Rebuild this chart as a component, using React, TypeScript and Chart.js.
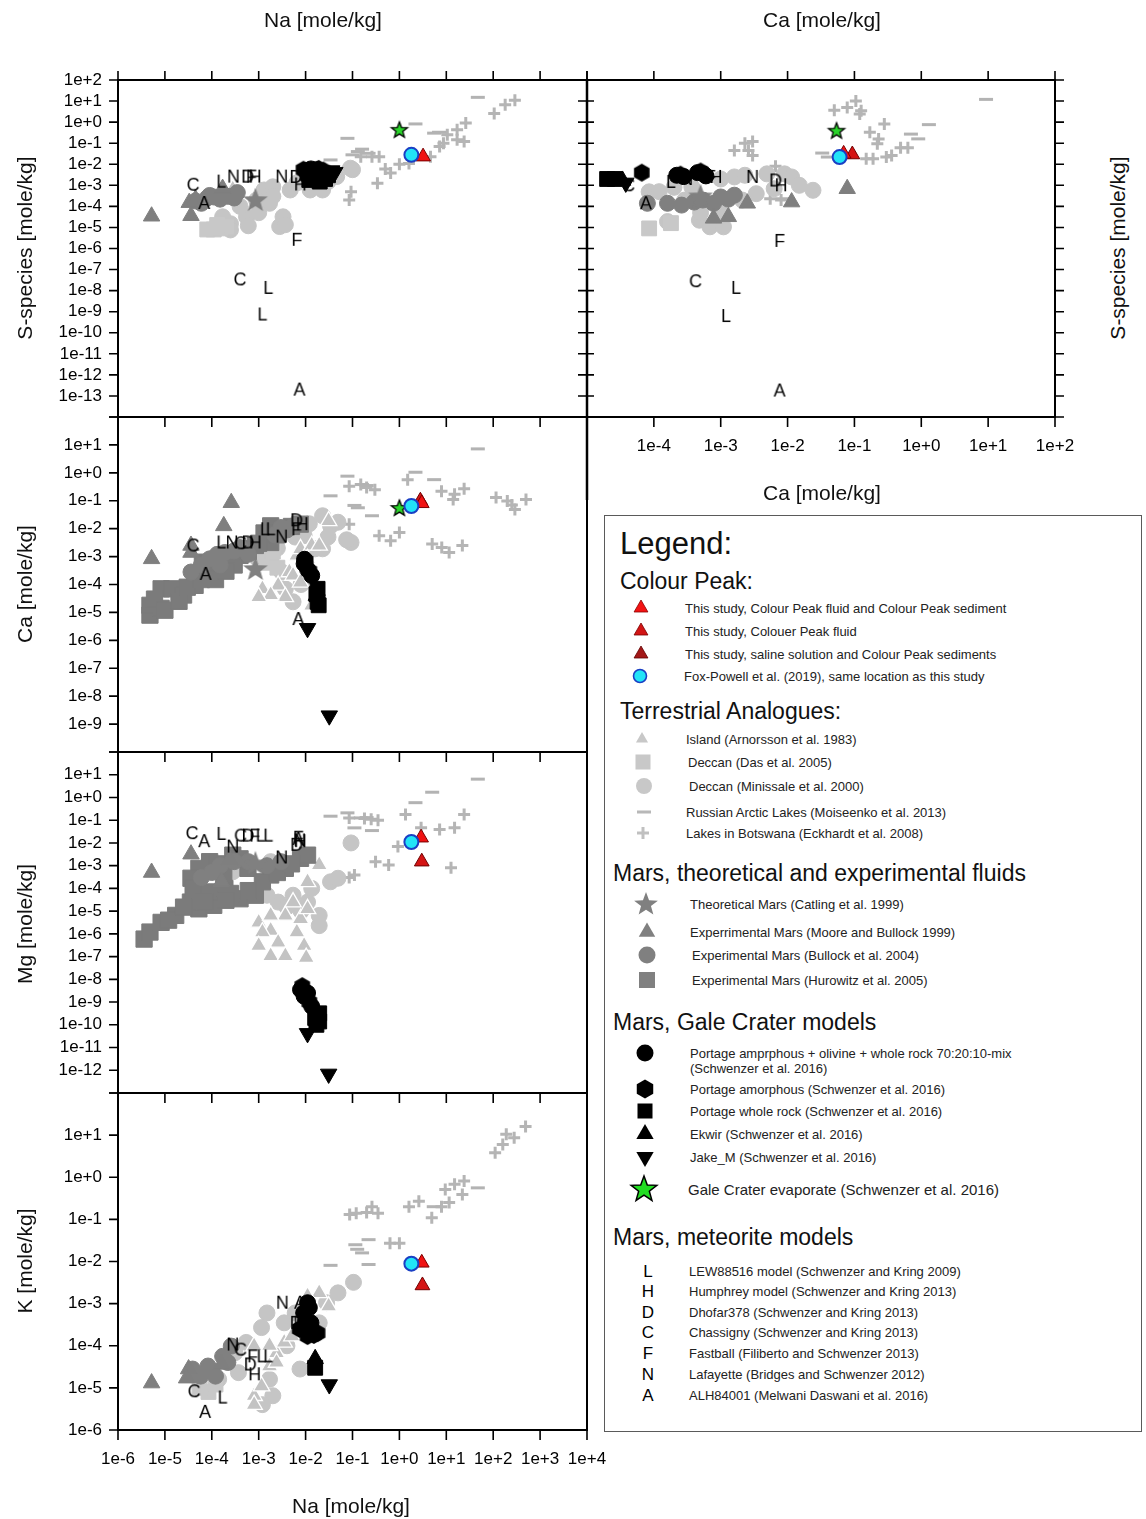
import React, { useEffect, useRef } from "react";
import { Chart, registerables } from "chart.js";

Chart.register(...registerables);

const FONT = "'Liberation Sans', Arial, Helvetica, sans-serif";

type P = [number, number];
type LP = [string, number, number];

// ---------------- axis ranges & tick labels ----------------
const NA_RANGE: P = [1e-6, 1e4];
const S_RANGE: P = [1e-14, 1e2];
const CA_S_RANGE: P = [1e-5, 1e2];
const CA_RANGE: P = [1e-10, 1e2];
const MG_RANGE: P = [1e-13, 1e2];
const K_RANGE: P = [1e-6, 1e2];

const NA_TICK_LABELS = ["1e-6", "1e-5", "1e-4", "1e-3", "1e-2", "1e-1", "1e+0", "1e+1", "1e+2", "1e+3", "1e+4"];
const CA_S_TICK_LABELS = ["1e-4", "1e-3", "1e-2", "1e-1", "1e+0", "1e+1", "1e+2"];
const S_TICK_LABELS = ["1e+2", "1e+1", "1e+0", "1e-1", "1e-2", "1e-3", "1e-4", "1e-5", "1e-6", "1e-7", "1e-8", "1e-9", "1e-10", "1e-11", "1e-12", "1e-13"];
const CA_TICK_LABELS = ["1e+1", "1e+0", "1e-1", "1e-2", "1e-3", "1e-4", "1e-5", "1e-6", "1e-7", "1e-8", "1e-9"];
const MG_TICK_LABELS = ["1e+1", "1e+0", "1e-1", "1e-2", "1e-3", "1e-4", "1e-5", "1e-6", "1e-7", "1e-8", "1e-9", "1e-10", "1e-11", "1e-12"];
const K_TICK_LABELS = ["1e+1", "1e+0", "1e-1", "1e-2", "1e-3", "1e-4", "1e-5", "1e-6"];

// ---------------- Panel: S-species vs Na ----------------
const letters_NaS: LP[] = [
  ["C", 4e-5, 1.07e-3], ["L", 1.6e-4, 1.5e-3], ["N", 2.9e-4, 2.6e-3], ["D", 5.8e-4, 2.6e-3], ["F", 7e-4, 2.6e-3], ["H", 8.4e-4, 2.6e-3],
  ["N", 3.1e-3, 2.6e-3], ["D", 6.2e-3, 2.5e-3], ["H", 7.7e-3, 1.1e-3], ["A", 6.9e-5, 1.45e-4], ["F", 6.5e-3, 2.6e-6],
  ["C", 4e-4, 3.4e-8], ["L", 1.6e-3, 1.35e-8], ["L", 1.2e-3, 7.4e-10], ["A", 7.4e-3, 2e-13],
];
const fox_NaS: P[] = [[1.8, 0.028]];
const cpBoth_NaS: P[] = [[3.2, 0.023]];
const galeEvap_NaS: P[] = [[1.0, 0.43]];
const portMix_NaS: P[] = [[0.01, 0.005], [0.012, 0.004], [0.015, 0.003], [0.02, 0.0045], [0.013, 0.006], [0.017, 0.0055]];
const portAmo_NaS: P[] = [[0.009, 0.0055], [0.011, 0.0028], [0.019, 0.006], [0.024, 0.005]];
const portWR_NaS: P[] = [[0.012, 0.0018], [0.02, 0.0015], [0.026, 0.002], [0.016, 0.0024], [0.03, 0.003]];
const ekwir_NaS: P[] = [[0.022, 0.0032]];
const jake_NaS: P[] = [[0.036, 0.005], [0.042, 0.0042]];
const catling_NaS: P[] = [[8.5e-4, 2e-4]];
const moore_NaS: P[] = [[5.2e-6, 3.4e-5], [3.6e-5, 3.6e-5], [3.3e-5, 1.5e-4], [1.7e-4, 7e-4], [4.5e-5, 2.2e-4]];
const bullock_NaS: P[] = [[4.5e-5, 1.8e-4], [6e-5, 1.4e-4], [8e-5, 2.5e-4], [1.1e-4, 2.8e-4], [1.5e-4, 2.2e-4], [2.2e-4, 3e-4], [3e-4, 2.5e-4], [9e-5, 3.3e-4], [3.5e-4, 4.5e-4]];
const island_NaS: P[] = [[1.9e-4, 2e-4], [2.4e-4, 3.2e-4], [2.8e-4, 6.5e-4]];
const das_NaS: P[] = [[8e-5, 8e-6], [1.1e-4, 8e-6], [1.5e-4, 9e-6], [2e-4, 1.1e-5], [1.3e-4, 1.3e-5]];
const minissale_NaS: P[] = [
  [2.5e-4, 1.5e-5], [5.5e-4, 3.2e-5], [1.3e-3, 6e-4], [1.7e-3, 1.4e-4], [2.8e-3, 1.1e-5], [3.3e-3, 3.2e-5], [4.7e-3, 6e-4],
  [0.0125, 6e-4], [0.023, 6e-4], [0.046, 2.6e-3], [0.09, 6.5e-3], [9e-4, 2e-4], [4e-4, 1e-4], [1.7e-4, 3.2e-5], [2.5e-4, 7.6e-6],
  [2e-3, 8.5e-4], [6.5e-3, 1.3e-3], [0.1, 5.5e-3], [3.7e-3, 1.35e-5], [6e-4, 1.2e-5], [1e-3, 5e-5], [2e-3, 3e-4], [0.03, 1.5e-3],
];
const russian_NaS: P[] = [[47, 15], [2.2, 0.82], [0.078, 0.17], [0.16, 0.052], [0.034, 0.016], [5.5, 0.3], [0.1, 0.028], [0.22, 0.033], [0.13, 0.04], [7, 0.33]];
const botswana_NaS: P[] = [
  [105, 2.6], [180, 6.6], [290, 11], [26, 0.9], [17, 0.43], [10.5, 0.25], [8.7, 0.1], [17, 0.145], [24, 0.12], [4.6, 0.023],
  [7.2, 0.07], [1.6, 0.011], [1.0, 0.01], [0.65, 0.0038], [0.34, 0.00126], [0.093, 5e-4], [0.085, 2e-4], [0.26, 0.023],
  [0.37, 0.023], [0.15, 0.023], [0.5, 0.006],
];

// ---------------- Panel: S-species vs Ca ----------------
const letters_CaS: LP[] = [
  ["C", 4.2e-5, 1e-3], ["L", 1.8e-4, 1.45e-3], ["N", 3.1e-4, 2e-3], ["D", 6.3e-4, 2.5e-3], ["F", 7e-4, 2.5e-3], ["H", 8.5e-4, 2.5e-3],
  ["N", 3e-3, 2.5e-3], ["D", 6.6e-3, 1.7e-3], ["H", 8e-3, 1e-3], ["A", 7.6e-5, 1.4e-4], ["F", 7.6e-3, 2.3e-6],
  ["C", 4.2e-4, 2.8e-8], ["L", 1.7e-3, 1.35e-8], ["L", 1.2e-3, 6.2e-10], ["A", 7.6e-3, 1.8e-13],
];
const fox_CaS: P[] = [[0.06, 0.022]];
const cpBoth_CaS: P[] = [[0.069, 0.031]];
const cpFluid_CaS: P[] = [[0.093, 0.029]];
const galeEvap_CaS: P[] = [[0.054, 0.39]];
const portMix_CaS: P[] = [[2.2e-4, 3e-3], [4.5e-4, 4e-3], [5.5e-4, 3.5e-3], [6e-4, 2.8e-3], [2.8e-4, 2.6e-3]];
const portAmo_CaS: P[] = [[6.6e-5, 4e-3], [2.5e-4, 3.2e-3], [5e-4, 4.5e-3]];
const portWR_CaS: P[] = [[2e-5, 2e-3], [2.6e-5, 2e-3]];
const ekwir_CaS: P[] = [[3.4e-5, 1.7e-3]];
const jake_CaS: P[] = [[3.8e-5, 1.3e-3]];
const catling_CaS: P[] = [[5e-4, 3e-4]];
const moore_CaS: P[] = [[7.8e-4, 2.7e-5], [1.3e-3, 3.2e-5], [2.5e-3, 1.4e-4], [0.0115, 1.6e-4], [0.078, 6.9e-4]];
const bullock_CaS: P[] = [[8e-5, 1.4e-4], [1.6e-4, 1.4e-4], [2.6e-4, 1.15e-4], [5.4e-4, 2e-4], [1e-3, 2.8e-4], [1.6e-3, 3.4e-4], [7.8e-4, 1.4e-4], [4e-4, 1.6e-4], [1.3e-3, 2.2e-4]];
const das_CaS: P[] = [[8.5e-5, 9e-6], [1.8e-4, 1.6e-5]];
const minissale_CaS: P[] = [
  [8.5e-5, 4.9e-4], [1.6e-4, 1.9e-5], [4.8e-4, 2.2e-5], [6.9e-4, 1.07e-5], [1.1e-3, 1.07e-5], [1.6e-3, 2.5e-3], [2.1e-3, 2e-4],
  [4.9e-3, 3.5e-3], [9e-3, 3.5e-3], [0.0115, 2.5e-3], [0.024, 5.8e-4], [3.7e-4, 8.3e-4], [2.9e-4, 2e-4], [3.4e-3, 4e-4],
  [6.3e-3, 6.9e-4], [2.3e-3, 3e-3], [1.2e-4, 5e-4], [1e-3, 2e-3], [5e-4, 5e-5], [1e-3, 5e-5], [0.015, 1e-3], [2e-4, 8e-4],
];
const russian_CaS: P[] = [[9.3, 12], [1.3, 0.76], [0.7, 0.27], [0.9, 0.16], [0.033, 0.034], [0.04, 0.022], [8.5e-3, 2.3e-4]];
const botswana_CaS: P[] = [
  [0.05, 3.7], [0.078, 4.9], [0.105, 10], [0.126, 3.5], [0.12, 2.4], [2.3e-3, 0.1], [3e-3, 0.12], [1.6e-3, 0.045], [2.6e-3, 0.045],
  [3e-3, 0.026], [0.17, 0.33], [0.28, 0.81], [0.23, 0.16], [0.22, 0.093], [0.36, 0.026], [0.49, 0.06], [0.63, 0.06], [0.15, 0.018],
  [0.19, 0.018], [6.6e-3, 8e-3], [5.5e-3, 2.3e-4], [8e-3, 2e-4], [0.3, 0.022],
];

// ---------------- Panel: Ca vs Na ----------------
const letters_NaCa: LP[] = [
  ["C", 4e-5, 2.5e-3], ["A", 7.4e-5, 2.4e-4], ["L", 1.6e-4, 3.2e-3], ["N", 2.7e-4, 3.2e-3], ["C", 4.1e-4, 3e-3], ["D", 5.9e-4, 3.2e-3],
  ["H", 8.5e-4, 3.2e-3], ["L", 1.35e-3, 9.5e-3], ["L", 1.8e-3, 9.5e-3], ["N", 3.1e-3, 5.2e-3], ["F", 6.4e-3, 9.5e-3],
  ["D", 6.4e-3, 0.02], ["H", 8.5e-3, 0.0145], ["A", 7e-3, 5.8e-6],
];
const fox_NaCa: P[] = [[1.8, 0.065]];
const cpBoth_NaCa: P[] = [[3.0, 0.081]];
const cpFluid_NaCa: P[] = [[2.8, 0.1]];
const galeEvap_NaCa: P[] = [[1.0, 0.055]];
const portMix_NaCa: P[] = [[9.3e-3, 5.5e-4], [0.0135, 2.1e-4], [0.011, 3.5e-4], [9.5e-3, 8e-4]];
const portAmo_NaCa: P[] = [[0.01, 7e-4], [0.012, 3e-4]];
const portWR_NaCa: P[] = [[0.018, 7e-5], [0.018, 2.4e-5], [0.017, 4.5e-5], [0.019, 1.8e-5]];
const ekwir_NaCa: P[] = [[0.017, 4e-5]];
const jake_NaCa: P[] = [[0.011, 2.7e-6], [0.032, 2e-9]];
const catling_NaCa: P[] = [[8.5e-4, 3.6e-4]];
const moore_NaCa: P[] = [[5.2e-6, 8.3e-4], [2.6e-4, 0.085], [1.8e-4, 0.0126], [3.6e-5, 2.5e-3], [3.6e-5, 1.4e-3]];
const bullock_NaCa: P[] = [
  [3.6e-5, 2.8e-4], [9e-5, 8.3e-4], [1.9e-4, 1.4e-3], [4e-4, 2.1e-3], [5.4e-3, 0.0126], [6e-5, 5e-4], [1.3e-4, 1.2e-3],
  [3e-4, 1.6e-3], [3e-3, 0.011], [1.5e-4, 5e-4], [6e-4, 1.2e-3], [2.2e-3, 6e-3], [4e-3, 9e-3],
];
const hurowitz_NaCa: P[] = [
  [4.8e-6, 8e-6], [4.8e-6, 1.8e-5], [8.3e-6, 7e-5], [1.4e-5, 7e-5], [2.5e-5, 4.2e-5], [4.4e-5, 9.3e-5], [9e-5, 2.8e-4], [1.9e-4, 1.1e-3],
  [4e-4, 1.1e-3], [8.5e-4, 2.5e-3], [1.8e-3, 3.2e-3], [1.8e-3, 0.0126], [7.7e-3, 0.0145], [8.3e-6, 1.4e-5], [6.3e-5, 6.3e-4],
  [4.9e-4, 1.9e-3], [1.2e-4, 3e-4], [2.5e-4, 8e-4], [6e-6, 3e-5], [1.3e-3, 7e-3], [1e-5, 1.2e-5], [2e-5, 2.5e-5], [3e-5, 8e-5],
  [6e-5, 1.5e-4], [1.5e-4, 6e-4], [3e-4, 5e-4], [6e-4, 1.5e-3], [1e-3, 3e-3], [2.5e-3, 6e-3], [5e-3, 0.012], [1.2e-4, 1.5e-4],
  [2e-4, 3e-4],
];
const island_NaCa: P[] = [
  [1.2e-3, 7e-5], [2.6e-3, 9.3e-5], [4.5e-3, 2.8e-4], [6.5e-3, 1.1e-3], [7.8e-3, 1.9e-3], [0.0135, 2.5e-3], [0.0195, 2.5e-3],
  [0.031, 0.019], [3.7e-3, 3.6e-5], [1.8e-3, 4.2e-5], [1e-3, 3.6e-5], [0.011, 8.3e-4], [5.4e-3, 2.1e-4], [7.8e-3, 1.2e-4], [0.0135, 1.8e-5],
];
const das_NaCa: P[] = [[1.5e-3, 6e-4], [2.5e-3, 4e-4], [1e-3, 1e-3], [2e-3, 1.5e-3]];
const minissale_NaCa: P[] = [
  [0.023, 0.029], [0.034, 0.0126], [0.049, 0.017], [0.093, 3.2e-3], [1.8e-3, 8.3e-4], [3.1e-3, 2.8e-4], [3.7e-3, 7e-5], [5.4e-3, 2.4e-5],
  [0.016, 1.9e-3], [9.3e-3, 5.6e-3], [0.023, 1.9e-3], [0.012, 0.015], [6e-3, 0.005], [0.03, 0.005], [0.075, 4e-3], [2.5e-3, 2e-3], [0.008, 1e-4],
];
const russian_NaCa: P[] = [[47, 7.2], [2.2, 1.05], [5.5, 0.57], [0.078, 0.76], [0.034, 0.15], [0.11, 0.068], [0.13, 0.056], [0.26, 0.029], [0.16, 0.38], [0.2, 0.35]];
const botswana_NaCa: P[] = [
  [0.085, 0.33], [0.15, 0.38], [0.2, 0.3], [0.3, 0.25], [1.5, 0.57], [7.9, 0.22], [15, 0.17], [24, 0.27], [14, 0.11], [115, 0.13],
  [200, 0.098], [290, 0.049], [500, 0.11], [0.37, 5.6e-3], [0.65, 3.7e-3], [1.0, 7.3e-3], [5, 2.8e-3], [8, 2.1e-3], [11.5, 1.4e-3],
  [22, 2.5e-3], [0.085, 0.0145], [250, 0.07],
];

// ---------------- Panel: Mg vs Na ----------------
const letters_NaMg: LP[] = [
  ["C", 3.8e-5, 0.027], ["A", 6.9e-5, 0.012], ["L", 1.6e-4, 0.025], ["N", 2.8e-4, 6.9e-3], ["C", 4.1e-4, 0.021], ["D", 5.9e-4, 0.021],
  ["F", 8.2e-4, 0.021], ["L", 1.1e-3, 0.021], ["L", 1.6e-3, 0.021], ["N", 3.1e-3, 2.3e-3], ["D", 6.4e-3, 8.3e-3], ["F", 7e-3, 0.017],
  ["H", 7.7e-3, 0.012], ["N", 7.5e-3, 0.013], ["A", 7e-3, 0.015],
];
const fox_NaMg: P[] = [[1.8, 0.011]];
const cpBoth_NaMg: P[] = [[2.9, 0.017]];
const cpFluid_NaMg: P[] = [[3.0, 1.5e-3]];
const portMix_NaMg: P[] = [[7.8e-3, 3.5e-9], [9.3e-3, 1.8e-9], [0.0135, 6.5e-10], [0.011, 2.5e-9]];
const portAmo_NaMg: P[] = [[8.5e-3, 5e-9], [0.012, 1e-9]];
const portWR_NaMg: P[] = [[0.0195, 3.2e-10], [0.0195, 1.4e-10], [0.017, 1e-10], [0.016, 2e-10]];
const jake_NaMg: P[] = [[0.011, 4.2e-11], [0.031, 6.9e-13]];
const catling_NaMg: P[] = [[8.5e-4, 1.26e-3]];
const moore_NaMg: P[] = [[5.2e-6, 5e-4], [3.6e-5, 3.2e-3], [1.6e-4, 2e-4], [2.4e-4, 1.8e-3]];
const bullock_NaMg: P[] = [[6e-5, 3e-4], [1.5e-4, 1e-3], [3e-4, 1.5e-3], [6e-4, 1.5e-3], [1.5e-3, 1e-3], [3e-3, 1.5e-3], [1e-4, 5e-4]];
const hurowitz_NaMg: P[] = [
  [3.6e-6, 5.9e-7], [4.8e-6, 1.2e-6], [8.3e-6, 3.2e-6], [1.7e-5, 6.5e-6], [5.3e-5, 1.26e-5], [1.1e-4, 1.8e-5], [4e-4, 3.5e-5],
  [8.5e-4, 5e-5], [4.4e-5, 5e-5], [9e-5, 7e-5], [1.9e-4, 1e-4], [5.3e-5, 7.6e-4], [9e-5, 1.5e-3], [2.8e-4, 2.9e-3], [5.9e-4, 7.6e-4],
  [1.8e-3, 3.9e-4], [3.7e-3, 7.6e-4], [7.8e-3, 2.1e-3], [0.011, 2.9e-3], [3.6e-5, 2.8e-4], [1.2e-3, 1.95e-4], [3.5e-5, 2.5e-5],
  [2.5e-4, 6e-5], [1.8e-4, 4e-4], [4e-5, 1e-4], [1.2e-5, 4e-6], [2.5e-5, 1.5e-5], [7e-5, 2.5e-5], [2e-4, 3e-5], [6e-4, 8e-5],
  [1.3e-4, 1.2e-3], [4e-4, 2e-3], [2.5e-3, 5e-4], [5e-3, 1.2e-3],
];
const island_NaMg: P[] = [
  [1e-3, 3.2e-6], [1.8e-3, 1.4e-6], [2.6e-3, 4.2e-7], [1.2e-3, 1.2e-6], [1e-3, 3e-7], [1.8e-3, 1.07e-7], [3.7e-3, 1.07e-7],
  [9.3e-3, 3e-7], [0.0103, 9e-8], [6.5e-3, 1.2e-6], [3.7e-3, 6.5e-6], [7.8e-3, 4.6e-6], [0.011, 1.26e-5], [0.0195, 1.07e-3],
  [0.011, 1.95e-4], [1.8e-3, 6.5e-6], [5.4e-3, 2.5e-5], [2.5e-4, 1.5e-3],
];
const minissale_NaMg: P[] = [
  [1.8e-3, 1.5e-3], [2.6e-3, 2.5e-5], [5.4e-3, 5e-5], [0.011, 2.5e-5], [0.0195, 6.5e-6], [0.0195, 2.3e-6], [0.0135, 1e-4],
  [0.034, 1.95e-4], [0.049, 2.8e-4], [0.093, 0.01], [2.8e-4, 5.4e-4], [4e-4, 1.07e-3], [1.5e-3, 5e-5], [8e-3, 1e-5], [4e-3, 1.5e-5],
];
const russian_NaMg: P[] = [[47, 6.4], [5, 1.7], [2.2, 0.59], [0.034, 0.15], [0.078, 0.21], [0.11, 0.046], [0.26, 0.035], [0.15, 0.126], [0.2, 0.13]];
const botswana_NaMg: P[] = [
  [0.085, 0.126], [0.18, 0.12], [0.25, 0.11], [0.35, 0.1], [1.35, 0.18], [2.9, 0.046], [7.2, 0.039], [15, 0.046], [24, 0.18],
  [0.93, 6.9e-3], [0.31, 1.5e-3], [0.59, 1.07e-3], [0.11, 3.9e-4], [0.085, 3e-4], [12.6, 8.1e-4],
];

// ---------------- Panel: K vs Na ----------------
const letters_NaK: LP[] = [
  ["N", 3.2e-3, 1.05e-3], ["A", 7.6e-3, 1.05e-3], ["D", 6.3e-3, 3.5e-4], ["L", 7e-3, 3.5e-4], ["N", 2.8e-4, 1.07e-4], ["C", 4.1e-4, 8.1e-5],
  ["F", 7.4e-4, 5.6e-5], ["L", 1.15e-3, 5.6e-5], ["L", 1.6e-3, 5.6e-5], ["D", 6.6e-4, 3.6e-5], ["H", 8.2e-4, 2.1e-5],
  ["C", 4.2e-5, 8.3e-6], ["L", 1.7e-4, 5.9e-6], ["A", 7.2e-5, 2.7e-6],
];
const fox_NaK: P[] = [[1.8, 8.9e-3]];
const cpBoth_NaK: P[] = [[3.0, 9.3e-3]];
const cpFluid_NaK: P[] = [[3.1, 2.7e-3]];
const portMix_NaK: P[] = [[0.011, 1.05e-3], [9.1e-3, 6e-4], [0.013, 3.5e-4], [0.012, 8e-4], [0.01, 4e-4]];
const portAmo_NaK: P[] = [[0.011, 1.7e-4], [0.015, 1.8e-4], [0.0075, 2.5e-4], [0.018, 2e-4]];
const portWR_NaK: P[] = [[0.016, 3e-5], [0.013, 2.2e-4]];
const ekwir_NaK: P[] = [[0.016, 4.9e-5]];
const jake_NaK: P[] = [[0.032, 1.2e-5]];
const moore_NaK: P[] = [[5.2e-6, 1.3e-5], [3.2e-5, 2.8e-5], [2.9e-5, 1.7e-5], [1.6e-4, 3.6e-5]];
const bullock_NaK: P[] = [[3.9e-5, 2.8e-5], [8.3e-5, 3.3e-5], [1.7e-4, 5.6e-5], [2.6e-4, 9.8e-5], [5.8e-5, 1.9e-5], [1.2e-4, 1.9e-5], [5e-5, 2e-5], [2.2e-4, 4e-5], [1e-4, 2.5e-5]];
const island_NaK: P[] = [
  [8e-4, 6.5e-6], [1.15e-3, 1.1e-5], [1.7e-3, 3.3e-5], [2.4e-3, 6.8e-5], [3.5e-3, 1.2e-4], [5.1e-3, 1.7e-4], [7.6e-3, 3.5e-4],
  [0.0195, 1.8e-3], [0.031, 8.7e-4], [0.011, 1.5e-3], [2.4e-3, 4e-5], [8e-4, 9.8e-5], [1.7e-3, 1e-4], [8e-4, 4e-6],
];
const das_NaK: P[] = [[8.5e-5, 8e-6], [5.5e-5, 1e-5], [1.2e-4, 1.2e-5]];
const minissale_NaK: P[] = [
  [0.105, 3.2e-3], [0.049, 1.8e-3], [0.028, 1.05e-3], [3.5e-3, 3.5e-4], [1.15e-3, 2.7e-4], [5.4e-4, 1.2e-4], [3.1e-4, 6.8e-5],
  [7.6e-3, 2.8e-5], [2e-3, 6.5e-6], [1.7e-3, 1.6e-5], [1.4e-4, 1.6e-5], [3.7e-4, 2.3e-5], [0.0195, 3.5e-4], [6e-3, 6e-4],
  [1.5e-3, 6e-4], [4e-3, 1e-4], [1.2e-3, 4e-6],
];
const russian_NaK: P[] = [[47, 0.56], [5.4, 0.2], [0.22, 0.033], [0.126, 0.0195], [0.115, 0.025], [0.22, 8.5e-3], [0.034, 8.1e-3], [0.16, 0.016]];
const botswana_NaK: P[] = [
  [110, 3.8], [160, 6], [190, 10.5], [280, 8.7], [490, 16], [9.5, 0.51], [15, 0.68], [24, 0.81], [22, 0.39], [1.6, 0.2], [2.6, 0.27],
  [4.9, 0.11], [7.9, 0.2], [11.5, 0.25], [0.087, 0.13], [0.12, 0.14], [0.2, 0.145], [0.35, 0.14], [0.26, 0.2], [0.63, 0.027], [1.0, 0.027],
];

// ---------------- helpers ----------------
function fmtExp(v: number) {
  const e = Math.round(Math.log10(v));
  return `1e${e >= 0 ? "+" : "-"}${Math.abs(e)}`;
}
function decadeValues(min: number, max: number) {
  const lo = Math.round(Math.log10(min));
  const hi = Math.round(Math.log10(max));
  const out: number[] = [];
  for (let e = lo; e <= hi; e++) out.push(Number(`1e${e}`));
  return out;
}

function mk(w: number, h: number, draw: (c: CanvasRenderingContext2D) => void) {
  const cv = document.createElement("canvas");
  cv.width = w;
  cv.height = h;
  const c = cv.getContext("2d") as CanvasRenderingContext2D;
  draw(c);
  return cv;
}
function starPath(c: CanvasRenderingContext2D, cx: number, cy: number, ro: number, ri: number) {
  c.beginPath();
  for (let i = 0; i < 10; i++) {
    const r = i % 2 ? ri : ro;
    const a = -Math.PI / 2 + (i * Math.PI) / 5;
    const x = cx + r * Math.cos(a);
    const y = cy + r * Math.sin(a);
    if (i) c.lineTo(x, y);
    else c.moveTo(x, y);
  }
  c.closePath();
}

let STY: any = null;
function seriesStyles() {
  if (STY) return STY;
  const letter = (ch: string) =>
    mk(26, 26, (c) => {
      c.font = `18px ${FONT}`;
      c.fillStyle = "#000";
      c.textAlign = "center";
      c.textBaseline = "middle";
      c.fillText(ch, 13, 14);
    });
  const hex = mk(22, 22, (c) => {
    c.beginPath();
    for (let i = 0; i < 6; i++) {
      const a = -Math.PI / 2 + (i * Math.PI) / 3;
      const x = 11 + 9 * Math.cos(a);
      const y = 11 + 9 * Math.sin(a);
      if (i) c.lineTo(x, y);
      else c.moveTo(x, y);
    }
    c.closePath();
    c.fillStyle = "#000";
    c.fill();
  });
  const greenStar = mk(22, 22, (c) => {
    starPath(c, 11, 11.5, 8.5, 3.6);
    c.fillStyle = "#2bd42b";
    c.fill();
    c.lineWidth = 1.3;
    c.strokeStyle = "#000";
    c.stroke();
  });
  const grayStar = mk(30, 30, (c) => {
    starPath(c, 15, 15.5, 13, 5.4);
    c.fillStyle = "#808080";
    c.fill();
  });
  const fill = (col: string, extra: any) => ({ pointBackgroundColor: col, pointBorderColor: col, pointBorderWidth: 1, ...extra });
  const black = "#000000";
  STY = {
    letterCanvas: { L: letter("L"), H: letter("H"), D: letter("D"), C: letter("C"), F: letter("F"), N: letter("N"), A: letter("A") },
    fox: { pointStyle: "circle", pointRadius: 7, pointBackgroundColor: "#22e4f7", pointBorderColor: "#1a3fc4", pointBorderWidth: 2 },
    cpBoth: { pointStyle: "triangle", pointRadius: 8.5, pointBackgroundColor: "#f01212", pointBorderColor: "#7a0000", pointBorderWidth: 1 },
    cpFluid: { pointStyle: "triangle", pointRadius: 8.5, pointBackgroundColor: "#d41414", pointBorderColor: "#700000", pointBorderWidth: 1 },
    cpSaline: { pointStyle: "triangle", pointRadius: 8.5, pointBackgroundColor: "#a51616", pointBorderColor: "#600000", pointBorderWidth: 1 },
    galeEvap: { pointStyle: greenStar, pointRadius: 8 },
    jake: fill(black, { pointStyle: "triangle", pointRotation: 180, pointRadius: 9.5 }),
    ekwir: fill(black, { pointStyle: "triangle", pointRadius: 9.5 }),
    portWR: fill(black, { pointStyle: "rect", pointRadius: 10.5 }),
    portAmo: { pointStyle: hex, pointRadius: 9 },
    portMix: fill(black, { pointStyle: "circle", pointRadius: 8 }),
    catling: { pointStyle: grayStar, pointRadius: 13 },
    moore: fill("#7f7f7f", { pointStyle: "triangle", pointRadius: 9.5 }),
    bullock: fill("#808080", { pointStyle: "circle", pointRadius: 8 }),
    hurowitz: fill("#7b7b7b", { pointStyle: "rect", pointRadius: 11.5 }),
    island: { pointStyle: "triangle", pointRadius: 9.5, pointBackgroundColor: "#c3c3c3", pointBorderColor: "#ffffff", pointBorderWidth: 1.3 },
    das: fill("#c8c8c8", { pointStyle: "rect", pointRadius: 10.5 }),
    minissale: fill("#c5c5c5", { pointStyle: "circle", pointRadius: 8 }),
    russian: { pointStyle: "line", pointRadius: 7, pointBorderColor: "#b3b3b3", pointBorderWidth: 3 },
    botswana: { pointStyle: "cross", pointRadius: 6, pointBorderColor: "#b5b5b5", pointBorderWidth: 3 },
  };
  return STY;
}

const SERIES_ORDER = [
  "fox", "cpBoth", "cpFluid", "cpSaline", "galeEvap", "jake", "ekwir", "portWR", "portAmo", "portMix",
  "catling", "moore", "bullock", "hurowitz", "island", "das", "minissale", "russian", "botswana",
];

function datasetsFor(d: any) {
  const s = seriesStyles();
  const list: any[] = [];
  if (d.letters) {
    list.push({
      label: "letters",
      data: d.letters.map(([l, x, y]: LP) => ({ x, y, l })),
      showLine: false,
      clip: false,
      pointRadius: 8,
      pointHoverRadius: 8,
      pointStyle: (c: any) => (c && c.raw && s.letterCanvas[c.raw.l]) || s.letterCanvas.L,
    });
  }
  for (const k of SERIES_ORDER) {
    if (!d[k]) continue;
    list.push({
      label: k,
      data: d[k].map(([x, y]: P) => ({ x, y })),
      showLine: false,
      clip: false,
      ...s[k],
      pointHoverRadius: s[k].pointRadius,
    });
  }
  return list;
}

const TICK_FONT_SIZE = 17;

function logAxis(a: any) {
  return {
    type: "logarithmic",
    min: a.range[0],
    max: a.range[1],
    display: a.display,
    position: a.position,
    // invisible tick marks used only as the gap between axis line and labels
    grid: { display: true, drawOnChartArea: false, drawTicks: true, tickLength: a.gap || 0, color: "rgba(0,0,0,0)", lineWidth: 0 },
    border: { display: false },
    ticks: {
      autoSkip: false,
      maxRotation: 0,
      minRotation: 0,
      padding: 0,
      color: "#000",
      font: { family: FONT, size: TICK_FONT_SIZE },
      callback: (v: any) => {
        const s = fmtExp(Number(v));
        return a.labels && a.labels.includes(s) ? s : "";
      },
    },
    afterBuildTicks: (sc: any) => {
      sc.ticks = decadeValues(a.range[0], a.range[1]).map((value) => ({ value }));
    },
    afterFit: (sc: any) => {
      if (a.display && a.size != null) {
        if (a.position === "left" || a.position === "right") sc.width = a.size;
        else sc.height = a.size;
      }
    },
  };
}

function framePlugin(f: any) {
  return {
    id: "frame",
    afterDatasetsDraw(chart: any) {
      const { ctx, chartArea: a } = chart;
      ctx.save();
      ctx.strokeStyle = "#000";
      ctx.lineWidth = 2;
      ctx.lineCap = "square";
      ctx.beginPath();
      if (f.edges.includes("top")) { ctx.moveTo(a.left, a.top); ctx.lineTo(a.right, a.top); }
      if (f.edges.includes("bottom")) { ctx.moveTo(a.left, a.bottom); ctx.lineTo(a.right, a.bottom); }
      if (f.edges.includes("left")) { ctx.moveTo(a.left, a.top); ctx.lineTo(a.left, a.bottom); }
      if (f.edges.includes("right")) { ctx.moveTo(a.right, a.top); ctx.lineTo(a.right, a.bottom); }
      ctx.stroke();
      ctx.lineCap = "butt";
      ctx.lineWidth = 1.6;
      ctx.beginPath();
      for (const t of f.ticks) {
        const sc = chart.scales[t.axis];
        const out = t.out || 0;
        const inn = t.inn || 0;
        for (const v of decadeValues(sc.min, sc.max)) {
          const p = sc.getPixelForValue(v);
          if (t.side === "left") { ctx.moveTo(a.left - out, p); ctx.lineTo(a.left + inn, p); }
          if (t.side === "right") { ctx.moveTo(a.right + out, p); ctx.lineTo(a.right - inn, p); }
          if (t.side === "top") { ctx.moveTo(p, a.top - out); ctx.lineTo(p, a.top + inn); }
          if (t.side === "bottom") { ctx.moveTo(p, a.bottom + out); ctx.lineTo(p, a.bottom - inn); }
        }
      }
      ctx.stroke();
      if (f.leftExtend) {
        ctx.lineWidth = 2.5;
        ctx.beginPath();
        ctx.moveTo(a.left, a.top);
        ctx.lineTo(a.left, a.bottom + f.leftExtend);
        ctx.stroke();
      }
      ctx.restore();
    },
  };
}

function buildConfig(p: any) {
  return {
    type: "scatter",
    data: { datasets: datasetsFor(p.data) },
    options: {
      responsive: false,
      animation: false,
      events: [],
      layout: { padding: p.padding, autoPadding: false },
      plugins: { legend: { display: false }, tooltip: { enabled: false } },
      scales: { x: logAxis(p.x), y: logAxis(p.y) },
    },
    plugins: [framePlugin(p.frame)],
  };
}

// ---------------- panel definitions ----------------
const PANELS: any[] = [
  {
    key: "NaS", left: 0, top: 0, width: 620, height: 430,
    padding: { top: 80, left: 0, right: 33, bottom: 13 },
    data: {
      letters: letters_NaS, fox: fox_NaS, cpBoth: cpBoth_NaS, galeEvap: galeEvap_NaS, portMix: portMix_NaS, portAmo: portAmo_NaS,
      portWR: portWR_NaS, ekwir: ekwir_NaS, jake: jake_NaS, catling: catling_NaS, moore: moore_NaS, bullock: bullock_NaS,
      island: island_NaS, das: das_NaS, minissale: minissale_NaS, russian: russian_NaS, botswana: botswana_NaS,
    },
    x: { range: NA_RANGE, display: false, position: "bottom" },
    y: { range: S_RANGE, display: true, position: "left", labels: S_TICK_LABELS, size: 118, gap: 16 },
    frame: {
      edges: ["top", "bottom", "left", "right"],
      ticks: [{ axis: "y", side: "left", out: 9 }, { axis: "x", side: "top", out: 9 }, { axis: "y", side: "right", inn: 9 }],
    },
  },
  {
    key: "CaS", left: 580, top: 0, width: 500, height: 520,
    padding: { top: 80, left: 7, right: 25, bottom: 0 },
    data: {
      letters: letters_CaS, fox: fox_CaS, cpBoth: cpBoth_CaS, cpFluid: cpFluid_CaS, galeEvap: galeEvap_CaS, portMix: portMix_CaS,
      portAmo: portAmo_CaS, portWR: portWR_CaS, ekwir: ekwir_CaS, jake: jake_CaS, catling: catling_CaS, moore: moore_CaS,
      bullock: bullock_CaS, das: das_CaS, minissale: minissale_CaS, russian: russian_CaS, botswana: botswana_CaS,
    },
    x: { range: CA_S_RANGE, display: true, position: "bottom", labels: CA_S_TICK_LABELS, size: 103, gap: 19 },
    y: { range: S_RANGE, display: false, position: "right" },
    frame: {
      edges: ["top", "bottom", "left", "right"],
      leftExtend: 83,
      ticks: [
        { axis: "x", side: "top", out: 9 }, { axis: "y", side: "right", out: 9 },
        { axis: "x", side: "bottom", out: 10 }, { axis: "y", side: "left", inn: 7 },
      ],
    },
  },
  {
    key: "NaCa", left: 0, top: 405, width: 620, height: 360,
    padding: { top: 12, left: 0, right: 33, bottom: 13 },
    data: {
      letters: letters_NaCa, fox: fox_NaCa, cpBoth: cpBoth_NaCa, cpFluid: cpFluid_NaCa, galeEvap: galeEvap_NaCa, portMix: portMix_NaCa,
      portAmo: portAmo_NaCa, portWR: portWR_NaCa, ekwir: ekwir_NaCa, jake: jake_NaCa, catling: catling_NaCa, moore: moore_NaCa,
      bullock: bullock_NaCa, hurowitz: hurowitz_NaCa, island: island_NaCa, das: das_NaCa, minissale: minissale_NaCa,
      russian: russian_NaCa, botswana: botswana_NaCa,
    },
    x: { range: NA_RANGE, display: false, position: "bottom" },
    y: { range: CA_RANGE, display: true, position: "left", labels: CA_TICK_LABELS, size: 118, gap: 16 },
    frame: {
      edges: ["top", "bottom", "left", "right"],
      ticks: [{ axis: "y", side: "left", out: 9 }, { axis: "x", side: "top", inn: 10 }],
    },
  },
  {
    key: "NaMg", left: 0, top: 740, width: 620, height: 365,
    padding: { top: 12, left: 0, right: 33, bottom: 12 },
    data: {
      letters: letters_NaMg, fox: fox_NaMg, cpBoth: cpBoth_NaMg, cpFluid: cpFluid_NaMg, portMix: portMix_NaMg, portAmo: portAmo_NaMg,
      portWR: portWR_NaMg, jake: jake_NaMg, catling: catling_NaMg, moore: moore_NaMg, bullock: bullock_NaMg, hurowitz: hurowitz_NaMg,
      island: island_NaMg, minissale: minissale_NaMg, russian: russian_NaMg, botswana: botswana_NaMg,
    },
    x: { range: NA_RANGE, display: false, position: "bottom" },
    y: { range: MG_RANGE, display: true, position: "left", labels: MG_TICK_LABELS, size: 118, gap: 16 },
    frame: {
      edges: ["top", "bottom", "left", "right"],
      ticks: [{ axis: "y", side: "left", out: 9 }, { axis: "x", side: "top", inn: 10 }],
    },
  },
  {
    key: "NaK", left: 0, top: 1080, width: 620, height: 439,
    padding: { top: 13, left: 0, right: 33, bottom: 0 },
    data: {
      letters: letters_NaK, fox: fox_NaK, cpBoth: cpBoth_NaK, cpFluid: cpFluid_NaK, portMix: portMix_NaK, portAmo: portAmo_NaK,
      portWR: portWR_NaK, ekwir: ekwir_NaK, jake: jake_NaK, moore: moore_NaK, bullock: bullock_NaK, island: island_NaK,
      das: das_NaK, minissale: minissale_NaK, russian: russian_NaK, botswana: botswana_NaK,
    },
    x: { range: NA_RANGE, display: true, position: "bottom", labels: NA_TICK_LABELS, size: 89, gap: 19 },
    y: { range: K_RANGE, display: true, position: "left", labels: K_TICK_LABELS, size: 118, gap: 16 },
    frame: {
      edges: ["top", "bottom", "left", "right"],
      ticks: [{ axis: "y", side: "left", out: 9 }, { axis: "x", side: "top", inn: 10 }, { axis: "x", side: "bottom", out: 10 }],
    },
  },
];

const AXIS_TITLES = [
  { text: "Na [mole/kg]", x: 323, y: 19, rot: false },
  { text: "Ca [mole/kg]", x: 822, y: 19, rot: false },
  { text: "S-species [mole/kg]", x: 24, y: 248, rot: true },
  { text: "S-species [mole/kg]", x: 1117, y: 248, rot: true },
  { text: "Ca [mole/kg]", x: 822, y: 492, rot: false },
  { text: "Ca [mole/kg]", x: 24, y: 584, rot: true },
  { text: "Mg [mole/kg]", x: 24, y: 924, rot: true },
  { text: "K [mole/kg]", x: 24, y: 1261, rot: true },
  { text: "Na [mole/kg]", x: 351, y: 1505, rot: false },
];

const LEGEND_HEADERS = [
  { text: "Legend:", x: 620, y: 543, size: 31 },
  { text: "Colour Peak:", x: 620, y: 581, size: 23 },
  { text: "Terrestrial Analogues:", x: 620, y: 711, size: 23 },
  { text: "Mars, theoretical and experimental fluids", x: 613, y: 873, size: 23 },
  { text: "Mars, Gale Crater models", x: 613, y: 1022, size: 23 },
  { text: "Mars, meteorite models", x: 613, y: 1237, size: 23 },
];

const LEGEND_ENTRIES: any[] = [
  { sym: "tri1", sx: 641, y: 608, tx: 685, text: "This study, Colour Peak fluid and Colour Peak sediment" },
  { sym: "tri2", sx: 641, y: 631, tx: 685, text: "This study, Colouer Peak fluid" },
  { sym: "tri3", sx: 641, y: 654, tx: 685, text: "This study, saline solution and Colour Peak sediments" },
  { sym: "cyan", sx: 640, y: 676, tx: 684, text: "Fox-Powell et al. (2019), same location as this study" },
  { sym: "triLight", sx: 642, y: 739, tx: 686, text: "Island (Arnorsson et al. 1983)" },
  { sym: "sqLight", sx: 643, y: 762, tx: 688, text: "Deccan (Das et al. 2005)" },
  { sym: "circLight", sx: 644, y: 786, tx: 689, text: "Deccan (Minissale et al. 2000)" },
  { sym: "dash", sx: 644, y: 812, tx: 686, text: "Russian Arctic Lakes (Moiseenko et al. 2013)" },
  { sym: "plus", sx: 643, y: 833, tx: 686, text: "Lakes in Botswana (Eckhardt et al. 2008)" },
  { sym: "starGray", sx: 646, y: 904, tx: 690, text: "Theoretical Mars (Catling et al. 1999)" },
  { sym: "triGray", sx: 647, y: 932, tx: 690, text: "Experrimental Mars (Moore and Bullock 1999)" },
  { sym: "circGray", sx: 647, y: 955, tx: 692, text: "Experimental Mars (Bullock et al. 2004)" },
  { sym: "sqGray", sx: 647, y: 980, tx: 692, text: "Experimental Mars (Hurowitz et al. 2005)" },
  { sym: "circBlack", sx: 645, y: 1053, tx: 690, text: "Portage amprphous + olivine + whole rock 70:20:10-mix" },
  { sym: null, sx: 0, y: 1068, tx: 690, text: "(Schwenzer et al. 2016)" },
  { sym: "hexBlack", sx: 645, y: 1089, tx: 690, text: "Portage amorphous (Schwenzer et al. 2016)" },
  { sym: "sqBlack", sx: 645, y: 1111, tx: 690, text: "Portage whole rock (Schwenzer et al. 2016)" },
  { sym: "triBlack", sx: 645, y: 1134, tx: 690, text: "Ekwir (Schwenzer et al. 2016)" },
  { sym: "invBlack", sx: 645, y: 1157, tx: 690, text: "Jake_M (Schwenzer et al. 2016)" },
  { sym: "starGreen", sx: 644, y: 1189, tx: 688, text: "Gale Crater evaporate (Schwenzer et al. 2016)", size: 15 },
  { letter: "L", sx: 648, y: 1271, tx: 689, text: "LEW88516 model (Schwenzer and Kring 2009)" },
  { letter: "H", sx: 648, y: 1291, tx: 689, text: "Humphrey model (Schwenzer and Kring 2013)" },
  { letter: "D", sx: 648, y: 1312, tx: 689, text: "Dhofar378 (Schwenzer and Kring 2013)" },
  { letter: "C", sx: 648, y: 1332, tx: 689, text: "Chassigny (Schwenzer and Kring 2013)" },
  { letter: "F", sx: 648, y: 1353, tx: 689, text: "Fastball (Filiberto and Schwenzer 2013)" },
  { letter: "N", sx: 648, y: 1374, tx: 689, text: "Lafayette (Bridges and Schwenzer 2012)" },
  { letter: "A", sx: 648, y: 1395, tx: 689, text: "ALH84001 (Melwani Daswani et al. 2016)" },
];

// ---------------- components ----------------
function ChartCanvas({ p }: { p: any }) {
  const ref = useRef<HTMLCanvasElement>(null);
  useEffect(() => {
    const chart = new Chart(ref.current as HTMLCanvasElement, buildConfig(p) as any);
    return () => chart.destroy();
  }, []);
  return (
    <canvas
      ref={ref}
      width={p.width}
      height={p.height}
      style={{ position: "absolute", left: p.left, top: p.top, width: p.width, height: p.height }}
    />
  );
}

function triPts(r: number, inv = false) {
  const c = 15;
  if (!inv) return `${c},${c - r} ${c + 0.866 * r},${c + 0.5 * r} ${c - 0.866 * r},${c + 0.5 * r}`;
  return `${c},${c + r} ${c + 0.866 * r},${c - 0.5 * r} ${c - 0.866 * r},${c - 0.5 * r}`;
}
function starPts(ro: number, ri: number) {
  const pts: string[] = [];
  for (let i = 0; i < 10; i++) {
    const r = i % 2 ? ri : ro;
    const a = -Math.PI / 2 + (i * Math.PI) / 5;
    pts.push(`${(15 + r * Math.cos(a)).toFixed(2)},${(15.5 + r * Math.sin(a)).toFixed(2)}`);
  }
  return pts.join(" ");
}
function hexPts(r: number) {
  const pts: string[] = [];
  for (let i = 0; i < 6; i++) {
    const a = -Math.PI / 2 + (i * Math.PI) / 3;
    pts.push(`${(15 + r * Math.cos(a)).toFixed(2)},${(15 + r * Math.sin(a)).toFixed(2)}`);
  }
  return pts.join(" ");
}

function Sym({ k }: { k: string }) {
  switch (k) {
    case "tri1": return <polygon points={triPts(8)} fill="#f31313" stroke="#8a0000" strokeWidth={0.8} />;
    case "tri2": return <polygon points={triPts(8)} fill="#d21515" stroke="#7a0000" strokeWidth={0.8} />;
    case "tri3": return <polygon points={triPts(8)} fill="#a31818" stroke="#600000" strokeWidth={0.8} />;
    case "cyan": return <circle cx={15} cy={15} r={6.5} fill="#22e4f7" stroke="#1a3fc4" strokeWidth={1.6} />;
    case "triLight": return <polygon points={triPts(7)} fill="#c8c8c8" />;
    case "sqLight": return <rect x={7.5} y={7.5} width={15} height={15} fill="#c8c8c8" />;
    case "circLight": return <circle cx={15} cy={15} r={8} fill="#c8c8c8" />;
    case "dash": return <rect x={8} y={13.5} width={14} height={3} fill="#b8b8b8" />;
    case "plus": return (
      <g stroke="#c0c0c0" strokeWidth={3}>
        <line x1={9} y1={15} x2={21} y2={15} />
        <line x1={15} y1={9} x2={15} y2={21} />
      </g>
    );
    case "starGray": return <polygon points={starPts(12.5, 5.2)} fill="#808080" />;
    case "triGray": return <polygon points={triPts(9.5)} fill="#808080" />;
    case "circGray": return <circle cx={15} cy={15} r={8.5} fill="#808080" />;
    case "sqGray": return <rect x={7} y={7} width={16} height={16} fill="#808080" />;
    case "circBlack": return <circle cx={15} cy={15} r={8.5} fill="#000" />;
    case "hexBlack": return <polygon points={hexPts(9.5)} fill="#000" />;
    case "sqBlack": return <rect x={7.5} y={7.5} width={15} height={15} fill="#000" />;
    case "triBlack": return <polygon points={triPts(10)} fill="#000" />;
    case "invBlack": return <polygon points={triPts(10, true)} fill="#000" />;
    case "starGreen": return <polygon points={starPts(13.5, 5.6)} fill="#22dd22" stroke="#000" strokeWidth={1.5} />;
    default: return null;
  }
}

export default function App() {
  return (
    <div
      style={{
        position: "absolute", left: 0, top: 0, width: 1146, height: 1519, background: "#ffffff",
        overflow: "hidden", fontFamily: FONT, color: "#000",
      }}
    >
      {/* legend box */}
      <div
        style={{
          position: "absolute", left: 604, top: 515, width: 538, height: 917, border: "1px solid #5a5a5a",
          boxSizing: "border-box", background: "#fff",
        }}
      />
      {LEGEND_HEADERS.map((h, i) => (
        <div
          key={"h" + i}
          style={{
            position: "absolute", left: h.x, top: h.y, transform: "translateY(-50%)", fontSize: h.size,
            lineHeight: 1, whiteSpace: "nowrap", color: "#111",
          }}
        >
          {h.text}
        </div>
      ))}
      {LEGEND_ENTRIES.map((e, i) => (
        <React.Fragment key={"e" + i}>
          {e.sym && (
            <svg width={30} height={30} style={{ position: "absolute", left: e.sx - 15, top: e.y - 15 }}>
              <Sym k={e.sym} />
            </svg>
          )}
          {e.letter && (
            <div
              style={{
                position: "absolute", left: e.sx, top: e.y, transform: "translate(-50%,-50%)", fontSize: 17,
                lineHeight: 1, color: "#000",
              }}
            >
              {e.letter}
            </div>
          )}
          <div
            style={{
              position: "absolute", left: e.tx, top: e.y, transform: "translateY(-50%)", fontSize: e.size || 13,
              lineHeight: 1, whiteSpace: "nowrap", color: "#222",
            }}
          >
            {e.text}
          </div>
        </React.Fragment>
      ))}
      {PANELS.map((p) => (
        <ChartCanvas key={p.key} p={p} />
      ))}
      {AXIS_TITLES.map((t, i) => (
        <div
          key={"t" + i}
          style={{
            position: "absolute", left: t.x, top: t.y, fontSize: 21, lineHeight: 1, whiteSpace: "nowrap",
            transform: t.rot ? "translate(-50%,-50%) rotate(-90deg)" : "translate(-50%,-50%)", color: "#111",
          }}
        >
          {t.text}
        </div>
      ))}
    </div>
  );
}
